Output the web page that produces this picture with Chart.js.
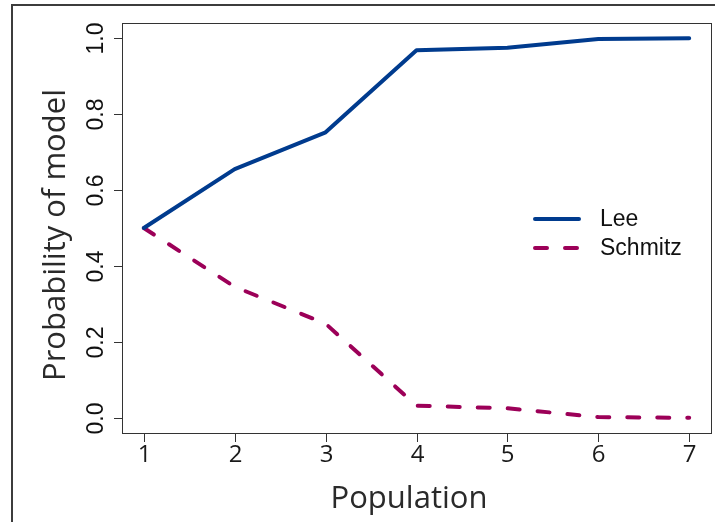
<!DOCTYPE html>
<html>
<head>
<meta charset="utf-8">
<script src="https://cdn.jsdelivr.net/npm/chart.js@4.4.0/dist/chart.umd.min.js"></script>
<style>
  html, body { margin: 0; padding: 0; background: #fff; }
  #wrap { width: 715px; height: 522px; }
</style>
</head>
<body>
<div id="wrap"><canvas id="chart" width="715" height="522"></canvas></div>
<script>
// data
const populations = [1, 2, 3, 4, 5, 6, 7]
const leeProb = [0.5, 0.655, 0.752, 0.968, 0.975, 0.998, 1.0]
const schmitzProb = [0.5, 0.345, 0.248, 0.032, 0.025, 0.002, 0.0]
const xTickLabels = ["1", "2", "3", "4", "5", "6", "7"]
const yTickValues = [0, 0.2, 0.4, 0.6, 0.8, 1.0]
const yTickLabels = ["0.0", "0.2", "0.4", "0.6", "0.8", "1.0"]
const seriesNames = ["Lee", "Schmitz"]

const LEE_COLOR = "#003b8e"
const SCHMITZ_COLOR = "#9c0058"
const DASH = [12, 18]

// R-style axes, frame and legend drawn on top of the library's scales
const rAxesPlugin = {
  id: "rAxes",
  afterDraw(chart) {
    const ctx = chart.ctx
    const area = chart.chartArea
    const xs = chart.scales.x
    const ys = chart.scales.y

    ctx.save()

    // outer figure frame (cropped on right / bottom)
    ctx.strokeStyle = "#3c3c3c"
    ctx.lineWidth = 2
    ctx.beginPath()
    ctx.moveTo(12, 530)
    ctx.lineTo(12, 5)
    ctx.lineTo(720, 5)
    ctx.stroke()

    // plot box
    ctx.strokeStyle = "#333"
    ctx.lineWidth = 1
    ctx.strokeRect(area.left + 0.5, area.top + 0.5, area.right - area.left, area.bottom - area.top)

    // x ticks + labels
    ctx.fillStyle = "#1a1a1a"
    ctx.font = "24px 'Open Sans', sans-serif"
    ctx.textAlign = "center"
    ctx.textBaseline = "alphabetic"
    populations.forEach((v, i) => {
      const px = Math.round(xs.getPixelForValue(v)) + 0.5
      ctx.beginPath()
      ctx.moveTo(px, area.bottom)
      ctx.lineTo(px, area.bottom + 9)
      ctx.stroke()
      ctx.fillText(xTickLabels[i], px, 462)
    })

    // x title
    ctx.fillStyle = "#2a2a2a"
    ctx.font = "31px 'Open Sans', sans-serif"
    ctx.fillText("Population", 409, 508)

    // y ticks + rotated labels
    ctx.fillStyle = "#111"
    ctx.font = "23px 'Liberation Sans', Arial, sans-serif"
    yTickValues.forEach((v, i) => {
      const py = Math.round(ys.getPixelForValue(v)) + 0.5
      ctx.beginPath()
      ctx.moveTo(area.left - 8, py)
      ctx.lineTo(area.left, py)
      ctx.stroke()
      ctx.save()
      ctx.translate(103, py)
      ctx.rotate(-Math.PI / 2)
      ctx.textAlign = "center"
      ctx.textBaseline = "alphabetic"
      ctx.fillText(yTickLabels[i], 0, 0)
      ctx.restore()
    })

    // y title
    ctx.save()
    ctx.fillStyle = "#2a2a2a"
    ctx.font = "31px 'Open Sans', sans-serif"
    ctx.translate(65, 235)
    ctx.rotate(-Math.PI / 2)
    ctx.textAlign = "center"
    ctx.fillText("Probability of model", 0, 0)
    ctx.restore()

    // legend
    const legendRows = [
      { name: seriesNames[0], color: LEE_COLOR, dash: [], y: 219 },
      { name: seriesNames[1], color: SCHMITZ_COLOR, dash: DASH, y: 248 }
    ]
    legendRows.forEach((row) => {
      ctx.strokeStyle = row.color
      ctx.lineWidth = 4
      ctx.lineCap = "round"
      ctx.setLineDash(row.dash)
      ctx.beginPath()
      ctx.moveTo(535, row.y)
      ctx.lineTo(579, row.y)
      ctx.stroke()
      ctx.setLineDash([])
      ctx.fillStyle = "#111"
      ctx.font = "23px 'Liberation Sans', Arial, sans-serif"
      ctx.textAlign = "left"
      ctx.textBaseline = "middle"
      ctx.fillText(row.name, 600, row.y + 1)
    })

    ctx.restore()
  }
}

const ctx = document.getElementById("chart").getContext("2d")

new Chart(ctx, {
  type: "line",
  data: {
    datasets: [
      {
        label: seriesNames[0],
        data: populations.map((p, i) => ({ x: p, y: leeProb[i] })),
        borderColor: LEE_COLOR,
        borderWidth: 4,
        borderCapStyle: "round",
        borderJoinStyle: "round",
        pointRadius: 0,
        tension: 0,
        fill: false
      },
      {
        label: seriesNames[1],
        data: populations.map((p, i) => ({ x: p, y: schmitzProb[i] })),
        borderColor: SCHMITZ_COLOR,
        borderWidth: 4,
        borderDash: DASH,
        borderCapStyle: "round",
        borderJoinStyle: "round",
        pointRadius: 0,
        tension: 0,
        fill: false
      }
    ]
  },
  options: {
    responsive: false,
    animation: false,
    devicePixelRatio: 1,
    layout: {
      padding: { left: 122, top: 23, right: 4, bottom: 89 }
    },
    plugins: {
      legend: { display: false },
      tooltip: { enabled: false }
    },
    scales: {
      x: {
        type: "linear",
        display: false,
        min: 0.76,
        max: 7.24
      },
      y: {
        type: "linear",
        display: false,
        min: -0.04,
        max: 1.04
      }
    }
  },
  plugins: [rAxesPlugin]
})
</script>
</body>
</html>
